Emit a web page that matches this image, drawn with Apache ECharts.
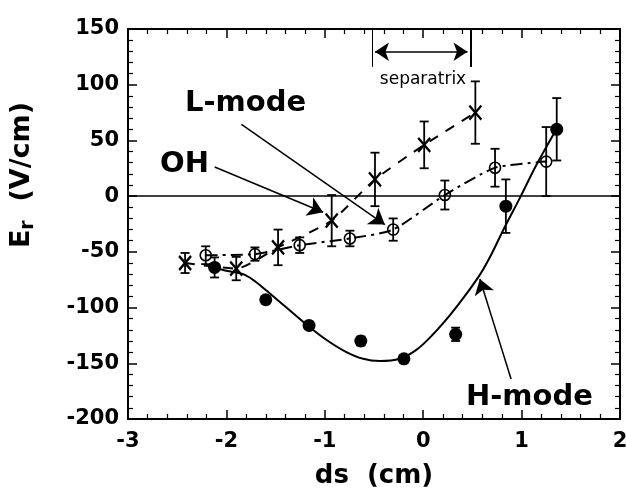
<!DOCTYPE html>
<html><head><meta charset="utf-8">
<script src="https://cdn.jsdelivr.net/npm/echarts@6/dist/echarts.min.js"></script>
<style>html,body{margin:0;padding:0;background:#fff}#c{width:626px;height:489px}</style>
</head><body><div id="c"></div>
<script>
// ---- data ----
const xTicks = [-3, -2, -1, 0, 1, 2];
const yTicks = [-200, -150, -100, -50, 0, 50, 100, 150];

// L-mode (crosses, dashed)
const lX   = [-2.42, -1.90, -1.475, -0.93, -0.49, 0.01, 0.53];
const lY   = [-60, -65, -46, -22, 15, 46, 75];
const lErr = [9, 10.5, 16, 23, 24, 21, 28];

// OH (open circles, dash-dot)
const ohX   = [-2.21, -1.71, -1.255, -0.745, -0.305, 0.22, 0.73, 1.25];
const ohY   = [-53, -52, -44, -38, -30, 1, 25.5, 31];
const ohErr = [8, 6, 7, 7, 10, 13, 17, 31];

// H-mode (filled circles)
const hX   = [-2.12, -1.60, -1.16, -0.634, -0.196, 0.33, 0.84, 1.357];
const hY   = [-64, -93, -116, -130, -146, -124, -9, 60];
const hErr = [9, 3, 3, 4, 3, 6, 24, 28];

// H-mode fit curve (solid)
const fitX = [-2.12, -2.0, -1.83, -1.7, -1.59, -1.39, -1.19, -1.0, -0.8, -0.61, -0.44, -0.24, -0.07, 0.1, 0.27, 0.42, 0.58, 0.7, 0.81, 0.98, 1.15, 1.36];
const fitY = [-64, -67, -70, -77, -85, -100, -115, -128, -139, -146, -148, -146, -138, -124, -107, -90, -70, -51, -31, -2, 28, 61];

// annotations (data coordinates)
const sepLeft = -0.52, sepRight = 0.48, sepTop = 150, sepBottom = 116, sepArrowY = 129.6;
const sepArrowFrom = -0.49, sepArrowTo = 0.45;
const arrowL  = [[-1.847, 64.5], [-0.39, -25.5]];
const arrowOH = [[-2.119, 26.1], [-1.017, -14.4]];
const arrowH  = [[0.893, -164.1], [0.576, -74.3]];

const FONT = 'DejaVu Sans';
const zip = (a, b) => a.map((v, i) => [v, b[i]]);
const zip3 = (a, b, c) => a.map((v, i) => [v, b[i], c[i]]);

function errBars(data) {
  return {
    type: 'custom',
    xAxisIndex: 0, yAxisIndex: 0,
    data: data,
    z: 3,
    renderItem: function (params, api) {
      const x = api.value(0), y = api.value(1), e = api.value(2);
      const t = api.coord([x, y + e]), b = api.coord([x, y - e]);
      const w = 4.5;
      const st = { stroke: '#000', lineWidth: 1.8 };
      return {
        type: 'group',
        children: [
          { type: 'line', shape: { x1: t[0], y1: t[1], x2: b[0], y2: b[1] }, style: st },
          { type: 'line', shape: { x1: t[0] - w, y1: t[1], x2: t[0] + w, y2: t[1] }, style: st },
          { type: 'line', shape: { x1: b[0] - w, y1: b[1], x2: b[0] + w, y2: b[1] }, style: st }
        ]
      };
    }
  };
}

const axisCommon = {
  type: 'value',
  axisLine: { show: true, onZero: false, lineStyle: { color: '#000', width: 2 } },
  axisTick: { show: true, inside: true, length: 9, lineStyle: { color: '#000', width: 1.5 } },
  minorTick: { show: true, splitNumber: 5, length: 5, lineStyle: { color: '#000', width: 1.2 } },
  splitLine: { show: false },
  minorSplitLine: { show: false }
};

const chart = echarts.init(document.getElementById('c'), null, { renderer: 'canvas' });
chart.setOption({
  animation: false,
  backgroundColor: '#fff',
  grid: { left: 128, right: 6, top: 29, bottom: 70, containLabel: false, outerBoundsMode: 'none' },
  xAxis: [
    Object.assign({}, axisCommon, {
      position: 'bottom', min: xTicks[0], max: xTicks[xTicks.length - 1], interval: 1,
      axisLabel: { show: true, color: '#000', fontFamily: FONT, fontWeight: 'bold', fontSize: 21, margin: 12, showMinLabel: true, showMaxLabel: true },
      name: 'ds  (cm)', nameLocation: 'middle', nameGap: 44,
      nameTextStyle: { color: '#000', fontFamily: FONT, fontWeight: 'bold', fontSize: 26 }
    }),
    Object.assign({}, axisCommon, {
      position: 'top', min: xTicks[0], max: xTicks[xTicks.length - 1], interval: 1,
      axisLabel: { show: false }
    })
  ],
  yAxis: [
    Object.assign({}, axisCommon, {
      position: 'left', min: yTicks[0], max: yTicks[yTicks.length - 1], interval: 50,
      axisLabel: { show: true, color: '#000', fontFamily: FONT, fontWeight: 'bold', fontSize: 21, margin: 9, showMinLabel: true, showMaxLabel: true }
    }),
    Object.assign({}, axisCommon, {
      position: 'right', min: yTicks[0], max: yTicks[yTicks.length - 1], interval: 50,
      axisLabel: { show: false }
    })
  ],
  series: [
    {
      name: 'H-mode fit', type: 'line', xAxisIndex: 0, yAxisIndex: 0,
      data: zip(fitX, fitY), smooth: 0.35, showSymbol: false, symbol: 'none',
      lineStyle: { color: '#000', width: 2 }, z: 2,
      markLine: {
        silent: true, animation: false,
        label: { show: false },
        symbol: ['none', 'none'],
        lineStyle: { color: '#000', width: 1.5, type: 'solid' },
        data: [
          { yAxis: 0, symbol: 'none', lineStyle: { width: 1.6 } },
          [{ coord: arrowL[0], symbol: 'none' }, { coord: arrowL[1], symbol: 'arrow', symbolSize: 15 }],
          [{ coord: arrowOH[0], symbol: 'none' }, { coord: arrowOH[1], symbol: 'arrow', symbolSize: 15 }],
          [{ coord: arrowH[0], symbol: 'none' }, { coord: arrowH[1], symbol: 'arrow', symbolSize: 15 }],
          [{ coord: [sepLeft, sepTop], symbol: 'none', lineStyle: { width: 1 } }, { coord: [sepLeft, sepBottom], symbol: 'none' }],
          [{ coord: [sepRight, sepTop], symbol: 'none', lineStyle: { width: 2 } }, { coord: [sepRight, sepBottom], symbol: 'none' }],
          [{ coord: [sepArrowFrom, sepArrowY], symbol: 'arrow', symbolSize: 14 }, { coord: [sepArrowTo, sepArrowY], symbol: 'arrow', symbolSize: 14 }]
        ]
      }
    },
    {
      name: 'L-mode', type: 'line', xAxisIndex: 0, yAxisIndex: 0,
      data: zip(lX, lY), smooth: 0.2,
      symbol: 'path://M0,0L10,12M10,0L0,12', symbolSize: [12, 14], showAllSymbol: true,
      itemStyle: { color: '#000', borderColor: '#000', borderWidth: 2.4, opacity: 1 },
      lineStyle: { color: '#000', width: 2, type: [10, 9] }, z: 4
    },
    {
      name: 'OH', type: 'line', xAxisIndex: 0, yAxisIndex: 0,
      data: zip(ohX, ohY), smooth: 0.2,
      symbol: 'circle', symbolSize: 11, showAllSymbol: true,
      itemStyle: { color: 'rgba(0,0,0,0)', borderColor: '#000', borderWidth: 1.6, opacity: 1 },
      lineStyle: { color: '#000', width: 2, type: [12, 5, 3, 5] }, z: 4
    },
    {
      name: 'H-mode', type: 'scatter', xAxisIndex: 0, yAxisIndex: 0,
      data: zip(hX, hY), symbol: 'circle', symbolSize: 13,
      itemStyle: { color: '#000', opacity: 1 }, z: 5
    },
    errBars(zip3(lX, lY, lErr)),
    errBars(zip3(ohX, ohY, ohErr)),
    errBars(zip3(hX, hY, hErr))
  ],
  graphic: [
    {
      type: 'text', x: 22, y: 175, rotation: Math.PI / 2,
      style: {
        text: '{e|E}{s|r}{e|  (V/cm)}',
        align: 'center', verticalAlign: 'middle',
        rich: {
          e: { fontFamily: FONT, fontWeight: 'bold', fontSize: 27, fill: '#000' },
          s: { fontFamily: FONT, fontWeight: 'bold', fontSize: 19, fill: '#000', padding: [13, 0, 0, 0] }
        }
      }
    },
    { type: 'text', x: 185, y: 103, style: { text: 'L-mode', fontFamily: FONT, fontWeight: 'bold', fontSize: 29, fill: '#000', verticalAlign: 'middle' } },
    { type: 'text', x: 160, y: 164, style: { text: 'OH', fontFamily: FONT, fontWeight: 'bold', fontSize: 29, fill: '#000', verticalAlign: 'middle' } },
    { type: 'text', x: 466, y: 397, style: { text: 'H-mode', fontFamily: FONT, fontWeight: 'bold', fontSize: 29, fill: '#000', verticalAlign: 'middle' } },
    { type: 'text', x: 423, y: 80, style: { text: 'separatrix', fontFamily: FONT, fontSize: 17, fill: '#000', align: 'center', verticalAlign: 'middle' } }
  ]
});
</script>
</body></html>
